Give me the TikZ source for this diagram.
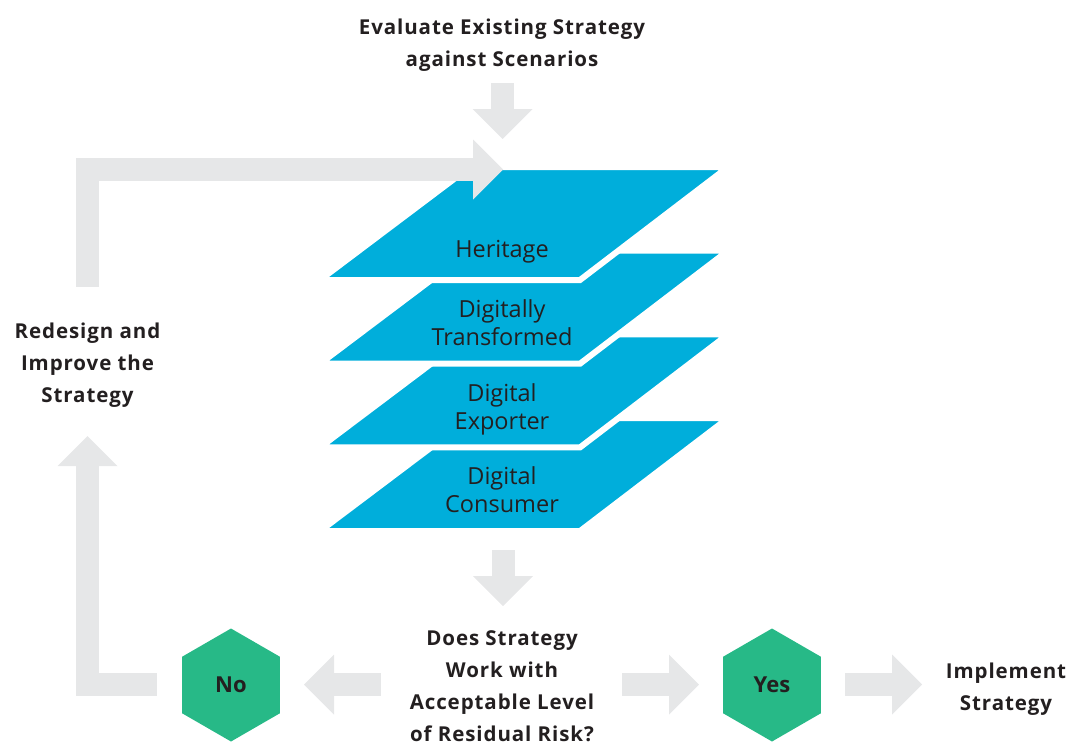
\documentclass[tikz,border=0pt]{standalone}
\usepackage{fontspec}
\setmainfont{Open Sans}
\usetikzlibrary{arrows.meta,shapes.geometric}
\definecolor{layerblue}{HTML}{00AEDB}
\definecolor{arrowgray}{HTML}{E6E7E8}
\definecolor{hexgreen}{HTML}{27B987}
\definecolor{textdark}{HTML}{231F20}
\begin{document}
\begin{tikzpicture}[x=1pt,y=-1pt,
  lbl/.style={font=\bfseries\fontsize{20.5}{32}\selectfont\addfontfeature{LetterSpace=4.5}, text=textdark, align=center, inner sep=0pt},
  layertext/.style={font=\fontsize{23.5}{28}\selectfont, text=textdark, align=center, inner sep=0pt},
  layer/.style={fill=layerblue, draw=white, line width=6pt},
  hexnode/.style={regular polygon, regular polygon sides=6, regular polygon rotate=30,
    minimum size=113pt, inner sep=0pt, fill=hexgreen, text=textdark,
    font=\bfseries\fontsize{22}{26}\selectfont},
  bigarrow/.style={draw=arrowgray, line width=23pt, line join=miter,
    -{Triangle[length=30pt,width=60pt,line width=0pt]}}]
\useasboundingbox (0,0) rectangle (1076,742);
% layers, bottom first
\foreach \i in {3,2,1,0}{
  \pgfmathsetmacro\dy{83.7*\i}
  \draw[layer] (470,167+\dy) -- (728,167+\dy) -- (580,280+\dy) -- (320,280+\dy) -- cycle;
}
\node[layertext] (heritage) at (502,251.5) {Heritage};
\node[layertext] (transformed) at (502,323) {Digitally\\Transformed};
\node[layertext] (exporter) at (502,409) {Digital\\Exporter};
\node[layertext] (consumer) at (502,490) {Digital\\Consumer};
% labels
\node[lbl] (evaluate) at (502,45.5) {Evaluate Existing Strategy\\against Scenarios};
\node[lbl] (redesign) at (87.5,365.5) {Redesign and\\Improve the\\Strategy};
\node[lbl] (question) at (502,686.5) {Does Strategy\\Work with\\Acceptable Level\\of Residual Risk?};
\node[lbl] (implement) at (1006,689.5) {Implement\\Strategy};
\node[hexnode] (no) at (231,685) {No};
\node[hexnode] (yes) at (772,685) {Yes};
% arrow end points
\coordinate (evalA) at (502.5,83);
\coordinate (evalB) at (502.5,139);
\coordinate (stackA) at (503,550);
\coordinate (stackB) at (503,606);
\coordinate (noA) at (381,684.5);
\coordinate (noB) at (304,684.5);
\coordinate (yesA) at (622,684.5);
\coordinate (yesB) at (699,684.5);
\coordinate (implA) at (845,684.5);
\coordinate (implB) at (922,684.5);
\coordinate (loopA) at (157,684.5);
\coordinate (loopC) at (87.5,684.5);
\coordinate (loopB) at (87.5,436);
\coordinate (topA) at (87.5,287);
\coordinate (topC) at (87.5,169.5);
\coordinate (topB) at (503,169.5);
\draw[bigarrow] (evalA) -- (evalB);
\draw[bigarrow] (stackA) -- (stackB);
\draw[bigarrow] (noA) -- (noB);
\draw[bigarrow] (yesA) -- (yesB);
\draw[bigarrow] (implA) -- (implB);
\draw[bigarrow] (loopA) -- (loopC) -- (loopB);
\draw[bigarrow] (topA) -- (topC) -- (topB);
\end{tikzpicture}
\end{document}
